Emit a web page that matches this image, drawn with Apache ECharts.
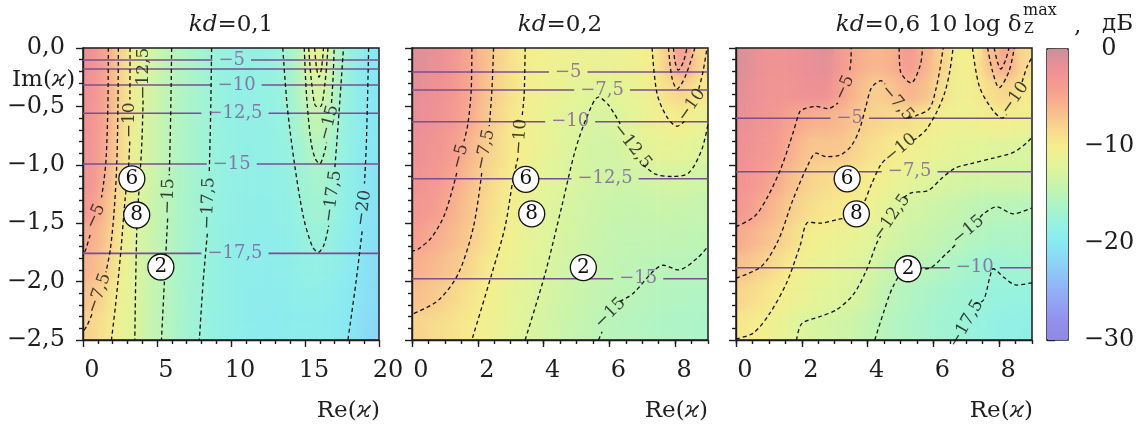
<!DOCTYPE html>
<html><head><meta charset="utf-8">
<script src="https://cdn.jsdelivr.net/npm/echarts@6/dist/echarts.min.js"></script>
<style>
html,body{margin:0;padding:0;background:#fff;}
#wrap{position:relative;width:1146px;height:427px;}
.layer{position:absolute;left:0;top:0;width:1146px;height:427px;}
#bgB{filter:blur(7px);clip-path:path('M83 48 H379 V340 H83 Z M412 48 H708 V340 H412 Z M736 48 H1032 V340 H736 Z');}
</style></head><body>
<div id="wrap"><div id="bgA" class="layer"></div><div id="bgB" class="layer"></div><div id="fg" class="layer"></div></div>
<script>
// ---------------- DATA ----------------
const panelTitles = ['kd=0,1', 'kd=0,2', 'kd=0,6'];
const yTicks = [0, -0.5, -1, -1.5, -2, -2.5];
const yTickLabels = ['0,0', '−0,5', '−1,0', '−1,5', '−2,0', '−2,5'];
const cbTicks = [0, -10, -20, -30];
const cbTickLabels = ['0', '−10', '−20', '−30'];

// heatmap cell centres
const cellX1 = [0.5,1.5,2.5,3.5,4.5,5.5,6.5,7.5,8.5,9.5,10.5,11.5,12.5,13.5,14.5,15.5,16.5,17.5,18.5,19.5];
const cellX23 = [0.25,0.75,1.25,1.75,2.25,2.75,3.25,3.75,4.25,4.75,5.25,5.75,6.25,6.75,7.25,7.75,8.25,8.75];
const cellY = [-0.125,-0.375,-0.625,-0.875,-1.125,-1.375,-1.625,-1.875,-2.125,-2.375];

// 10 log delta (dB), rows top -> bottom
const field1 = [
 [-2.0,-4.4,-7.8,-10.9,-13.1,-14.3,-15.5,-16.4,-17.3,-17.9,-18.3,-18.4,-18.2,-17.4,-15.7,-11.0,-12.5,-17.0,-18.9,-20.3],
 [-2.3,-4.5,-7.9,-11.0,-13.1,-14.4,-15.6,-16.5,-17.4,-18.0,-18.4,-18.5,-18.3,-17.7,-16.1,-12.8,-13.3,-17.5,-18.9,-20.3],
 [-2.4,-4.6,-8.0,-11.1,-13.2,-14.5,-15.7,-16.6,-17.4,-18.1,-18.5,-18.6,-18.4,-18.0,-16.6,-14.4,-14.6,-17.8,-19.0,-20.4],
 [-2.5,-5.0,-8.2,-11.3,-13.3,-14.6,-15.8,-16.7,-17.5,-18.1,-18.5,-18.7,-18.6,-18.2,-17.3,-15.5,-15.8,-18.0,-19.2,-20.5],
 [-2.6,-5.3,-8.5,-11.6,-13.4,-14.7,-15.9,-16.8,-17.5,-18.2,-18.6,-18.8,-18.8,-18.5,-17.6,-16.5,-16.6,-18.3,-19.4,-20.6],
 [-3.4,-6.2,-8.9,-12.0,-13.6,-14.8,-16.0,-16.9,-17.6,-18.3,-18.7,-18.9,-19.0,-18.8,-18.0,-17.0,-17.1,-18.6,-19.6,-20.8],
 [-5.1,-6.9,-9.7,-12.3,-13.8,-14.9,-16.1,-17.0,-17.7,-18.4,-18.8,-19.0,-19.1,-19.0,-18.5,-17.6,-17.7,-19.0,-19.9,-21.0],
 [-5.8,-7.4,-10.3,-12.4,-13.9,-15.0,-16.2,-17.1,-17.8,-18.5,-18.9,-19.1,-19.2,-19.1,-18.8,-18.3,-18.5,-19.3,-20.1,-21.2],
 [-6.8,-8.7,-10.6,-12.45,-14.0,-15.1,-16.3,-17.2,-17.9,-18.5,-19.0,-19.2,-19.3,-19.3,-19.1,-18.9,-19.1,-19.7,-20.4,-21.4],
 [-7.9,-9.3,-10.9,-12.5,-14.1,-15.2,-16.4,-17.3,-18.0,-18.6,-19.0,-19.3,-19.4,-19.4,-19.3,-19.2,-19.4,-20.0,-20.6,-21.6]
];
const field2 = [
 [-1.2,-1.8,-3.0,-4.7,-6.6,-8.2,-9.5,-10.3,-10.7,-11.0,-11.1,-11.1,-11.0,-10.7,-10.1,-7.8,-3.5,-8.5],
 [-1.5,-2.1,-3.2,-4.8,-6.8,-8.4,-9.7,-10.5,-11.0,-11.5,-11.9,-12.2,-11.9,-11.4,-10.7,-9.0,-8.0,-9.7],
 [-1.8,-2.4,-3.5,-5.1,-7.1,-8.7,-9.9,-10.8,-11.5,-12.1,-12.5,-13.0,-12.5,-11.8,-11.1,-10.3,-10.1,-11.2],
 [-2.2,-2.9,-4.1,-5.9,-7.6,-9.0,-10.0,-10.9,-11.7,-12.3,-12.9,-13.3,-13.1,-12.4,-11.8,-11.5,-11.7,-12.4],
 [-2.6,-3.4,-4.8,-6.5,-8.0,-9.3,-10.4,-11.3,-12.0,-12.5,-13.0,-13.4,-13.6,-13.5,-13.2,-12.9,-13.0,-13.4],
 [-3.2,-4.1,-5.5,-7.0,-8.4,-9.7,-10.8,-11.6,-12.2,-12.8,-13.3,-13.7,-14.0,-14.1,-14.0,-13.9,-14.0,-14.2],
 [-4.3,-5.4,-6.3,-7.4,-8.8,-10.0,-11.0,-11.8,-12.4,-13.0,-13.6,-14.0,-14.3,-14.5,-14.5,-14.5,-14.6,-14.8],
 [-5.5,-6.3,-7.1,-8.2,-9.5,-10.5,-11.3,-12.1,-12.7,-13.3,-13.8,-14.2,-14.5,-14.8,-14.95,-15.1,-15.1,-15.3],
 [-6.7,-7.4,-8.3,-9.2,-10.1,-11.0,-11.8,-12.4,-13.0,-13.6,-14.1,-14.5,-14.8,-15.0,-15.3,-15.5,-15.6,-15.8],
 [-8.0,-8.6,-9.1,-9.8,-10.5,-11.3,-12.0,-12.7,-13.3,-13.9,-14.4,-14.9,-15.2,-15.5,-15.7,-15.9,-16.0,-16.2]
];
const field3 = [
 [-1.0,-2.2,-2.6,-2.3,-1.8,-1.3,-3.8,-5.4,-6.0,-5.6,-3.5,-5.5,-7.9,-10.5,-10.0,-6.5,-4.8,-8.5],
 [-1.4,-2.4,-2.9,-2.7,-2.2,-2.0,-4.7,-6.4,-7.7,-7.0,-5.7,-6.6,-9.0,-10.8,-10.4,-8.8,-8.0,-9.7],
 [-1.8,-2.7,-3.3,-4.7,-5.6,-5.8,-6.3,-7.3,-8.1,-8.6,-8.8,-9.6,-10.5,-10.9,-10.8,-10.4,-10.3,-10.8],
 [-2.2,-3.1,-4.0,-5.7,-7.1,-7.1,-7.2,-8.3,-9.0,-9.8,-10.4,-10.9,-11.3,-11.7,-11.9,-12.2,-12.4,-12.6],
 [-2.7,-3.8,-5.1,-6.8,-7.9,-8.5,-8.9,-9.5,-10.1,-11.0,-11.7,-12.1,-12.5,-12.9,-13.1,-13.2,-13.3,-13.3],
 [-3.4,-5.0,-6.3,-7.7,-8.8,-9.3,-9.6,-9.9,-11.1,-12.2,-12.9,-13.4,-13.8,-14.2,-14.7,-15.0,-15.0,-15.1],
 [-5.4,-6.3,-7.4,-8.8,-10.2,-10.6,-11.0,-11.6,-12.3,-13.0,-13.6,-14.1,-14.6,-14.9,-15.5,-15.9,-16.0,-16.0],
 [-6.8,-7.8,-8.9,-10.0,-11.0,-11.5,-11.9,-12.3,-13.2,-14.1,-14.9,-15.0,-15.6,-16.2,-16.8,-17.3,-17.1,-16.9],
 [-8.2,-9.1,-9.9,-10.8,-11.5,-12.0,-12.3,-12.8,-14.0,-15.1,-15.6,-16.1,-16.6,-17.0,-17.3,-17.7,-17.9,-17.9],
 [-9.5,-10.1,-11.0,-12.0,-12.7,-12.9,-13.3,-14.0,-14.8,-15.5,-16.0,-16.5,-16.9,-17.3,-17.8,-18.3,-18.6,-18.7]
];

// contour polylines (segments broken where their labels sit)
const contours1 = [
 [[[1.71,0],[1.68,-0.5],[1.56,-0.95],[1.4,-1.15],[1.25,-1.28]], [[0.48,-1.6],[0.2,-1.72],[0,-1.78]]],
 [[[2.39,0],[2.36,-0.5],[2.28,-1.0],[2.1,-1.4],[1.85,-1.72],[1.55,-1.92]], [[0.6,-2.28],[0.3,-2.37],[0,-2.43]]],
 [[[3.18,0],[3.17,-0.44]], [[3.16,-0.8],[3.06,-1.05],[2.84,-1.3],[2.55,-1.75],[2.2,-2.2],[1.92,-2.5]]],
 [[[4.06,-0.45],[3.98,-0.8],[3.82,-1.15],[3.65,-1.5],[3.56,-2.0],[3.5,-2.5]]],
 [[[5.99,0],[5.92,-0.6],[5.83,-1.09]], [[5.72,-1.46],[5.5,-2.0],[5.3,-2.5]]],
 [[[8.69,0],[8.62,-0.6],[8.53,-1.07]], [[8.4,-1.59],[8.12,-2.0],[7.86,-2.5]]],
 [[[13.5,0],[13.8,-0.5],[14.3,-1.0],[14.9,-1.45],[15.5,-1.7],[15.9,-1.75],[16.3,-1.68],[16.6,-1.52]], [[17.02,-1.02],[17.3,-0.55],[17.6,0]]],
 [[[14.95,0],[15.1,-0.4],[15.4,-0.8],[15.7,-0.95],[16.0,-0.99],[16.3,-0.9],[16.46,-0.81]], [[16.79,-0.47],[16.9,-0.25],[16.97,0]]],
 [[[15.25,0],[15.45,-0.3],[15.75,-0.5],[16.05,-0.5],[16.35,-0.3],[16.55,0]]],
 [[[15.65,0],[15.78,-0.17],[15.95,-0.25],[16.12,-0.17],[16.25,0]]],
 [[[19.3,0],[19.15,-0.8],[19.02,-1.16]], [[18.86,-1.57],[18.45,-2.0],[17.9,-2.5]]]
];
const contours2 = [
 [[[1.82,0],[1.8,-0.36],[1.7,-0.65],[1.58,-0.8]], [[1.36,-1.07],[1.0,-1.42],[0.6,-1.62],[0.2,-1.72],[0,-1.74]]],
 [[[2.48,0],[2.43,-0.36],[2.35,-0.67]], [[2.12,-1.07],[1.87,-1.53],[1.41,-1.93],[0.8,-2.16],[0,-2.28]]],
 [[[3.44,0],[3.41,-0.4],[3.35,-0.58]], [[3.22,-0.94],[3.07,-1.13],[2.83,-1.53],[2.43,-1.93],[1.82,-2.5]]],
 [[[3.44,-2.5],[4.05,-1.93],[4.55,-1.36],[4.96,-0.88],[5.32,-0.59],[5.67,-0.42],[5.98,-0.49],[6.33,-0.65]], [[7.02,-1.0],[7.4,-1.08],[7.9,-1.10],[8.41,-1.07],[8.81,-0.87],[9.0,-0.65]]],
 [[[5.67,-2.5],[5.78,-2.43]], [[6.32,-2.17],[6.73,-2.1],[7.34,-1.91],[7.65,-1.86],[8.1,-1.9],[8.67,-1.8],[9.0,-1.7]]],
 [[[7.3,0],[7.45,-0.39],[7.75,-0.59],[8.06,-0.67],[8.28,-0.63]], [[8.72,-0.35],[8.85,-0.2],[8.97,0]]],
 [[[7.8,0],[7.9,-0.25],[8.06,-0.35],[8.3,-0.25],[8.6,0]]],
 [[[7.95,0],[8.0,-0.12],[8.1,-0.19],[8.25,-0.12],[8.36,0]]]
];
const contours3 = [
 [[[0,-1.53],[0.57,-1.44],[0.97,-1.27],[1.38,-1.02],[1.73,-0.73],[1.93,-0.55],[2.03,-0.525],[2.43,-0.5],[2.79,-0.52],[3.1,-0.47]], [[3.46,-0.19],[3.5,-0.08],[3.5,0]]],
 [[[4.96,0],[5.0,-0.2],[5.32,-0.3],[5.6,-0.15],[5.67,0]]],
 [[[0,-1.97],[0.77,-1.87],[1.28,-1.65],[1.73,-1.3],[2.19,-1.0],[2.44,-0.9],[2.74,-0.93],[3.14,-0.92],[3.5,-0.84],[3.75,-0.7],[3.95,-0.5],[4.1,-0.35],[4.26,-0.3],[4.41,-0.28],[4.53,-0.31]], [[5.24,-0.6],[5.47,-0.58],[5.88,-0.52],[6.08,-0.35],[6.2,-0.18],[6.3,0]]],
 [[[0,-2.49],[0.53,-2.44],[1.03,-2.27],[1.54,-2.01],[1.94,-1.7],[2.2,-1.49],[2.55,-1.5],[3.06,-1.47],[3.67,-1.43],[3.9,-1.32],[4.1,-1.18],[4.4,-1.0],[4.6,-0.94]], [[5.38,-0.79],[5.5,-0.77],[5.78,-0.7],[6.1,-0.55],[6.35,-0.38],[6.5,-0.2],[6.6,0]]],
 [[[7.19,0],[7.4,-0.33],[7.8,-0.53],[8.1,-0.6],[8.23,-0.57]], [[8.7,-0.29],[8.85,-0.16],[9.0,-0.08]]],
 [[[7.65,0],[7.8,-0.2],[8.0,-0.34],[8.3,-0.2],[8.46,0]]],
 [[[7.85,0],[7.95,-0.12],[8.05,-0.18],[8.2,-0.1],[8.3,0]]],
 [[[1.84,-2.5],[2.0,-2.36],[2.55,-2.3],[3.06,-2.24],[3.57,-2.11],[3.97,-1.9],[4.28,-1.67],[4.4,-1.61]], [[5.1,-1.28],[5.33,-1.24],[5.84,-1.22],[6.24,-1.12],[6.65,-1.03],[7.15,-0.99],[7.86,-0.94],[8.46,-0.89],[8.92,-0.79],[9.0,-0.75]]],
 [[[4.22,-2.5],[4.48,-2.27],[4.78,-2.04],[5.19,-1.89],[5.8,-1.89],[6.4,-1.76],[6.72,-1.67]], [[7.42,-1.45],[7.52,-1.42],[7.92,-1.36],[8.43,-1.42],[8.99,-1.37]]],
 [[[7.24,-2.19],[7.52,-2.16],[7.72,-1.96],[7.82,-1.89],[8.13,-1.96],[8.53,-2.03],[9.0,-2.01]]]
];

// contour labels: [x, y, text, rotation]
const cLabels1 = [[0.85,-1.44,'−5',65],[1.08,-2.1,'−7,5',70],[3.18,-0.62,'−10',90],[4.07,-0.22,'−12,5',90],[5.77,-1.27,'−15',88],[8.47,-1.33,'−17,5',88],[16.62,-0.64,'−15',75],[16.85,-1.27,'−17,5',82],[18.94,-1.37,'−20',82]];
const cLabels2 = [[1.46,-0.93,'−5',75],[2.22,-0.87,'−7,5',78],[3.29,-0.76,'−10',86],[6.69,-0.84,'−12,5',-52],[8.5,-0.49,'−10',55],[6.03,-2.27,'−15',45]];
const cLabels3 = [[3.3,-0.34,'−5',65],[4.9,-0.47,'−7,5',-50],[5.0,-0.86,'−10',40],[4.73,-1.45,'−12,5',55],[8.48,-0.43,'−10',55],[7.06,-1.56,'−15',40],[7.0,-2.36,'−17,5',60]];

// horizontal lines: [y, label, label x]
const hLines1 = [[-0.103,'−5',10.05],[-0.180,'',0],[-0.317,'−10',10.38],[-0.559,'−12,5',10.27],[-0.993,'−15',10.05],[-1.758,'−17,5',10.27]];
const hLines2 = [[-0.205,'−5',4.75],[-0.36,'−7,5',5.78],[-0.631,'−10',4.81],[-1.12,'−12,5',5.87],[-1.975,'−15',6.88]];
const hLines3 = [[-0.602,'−5',3.46],[-1.059,'−7,5',5.28],[-1.881,'−10',7.26]];

// circled markers: [x, y, label]
const markers1 = [[3.3,-1.12,'6'],[3.63,-1.43,'8'],[5.26,-1.875,'2']];
const markers2 = [[3.46,-1.124,'6'],[3.64,-1.42,'8'],[5.21,-1.88,'2']];
const markers3 = [[3.38,-1.12,'6'],[3.66,-1.42,'8'],[5.23,-1.89,'2']];

// ---------------- LAYOUT / STYLE ----------------
const FONT = 'DejaVu Serif';
const CMAP = ['#9088e0','#9490ee','#94a4f4','#90bcf6','#8cd4f6','#88eaf2','#96f2e0','#aef4c6','#c8f4ac','#e2f49a','#f6ee8c','#f8d48e','#f8b68e','#f69c90','#ee9096','#c8909c'];
const P = [
 {left:83, top:48, width:296, height:292, xmax:20, xint:5},
 {left:412, top:48, width:296, height:292, xmax:9, xint:2},
 {left:736, top:48, width:296, height:292, xmax:9, xint:2}
];
const fields = [field1, field2, field3];
const cellXs = [cellX1, cellX23, cellX23];
const contours = [contours1, contours2, contours3];
const cLabels = [cLabels1, cLabels2, cLabels3];
const hLines = [hLines1, hLines2, hLines3];
const markers = [markers1, markers2, markers3];

function bgOption() {
  const grid = [], xAxis = [], yAxis = [], series = [];
  P.forEach((p, i) => {
    grid.push({left:p.left, top:p.top, width:p.width, height:p.height});
    xAxis.push({type:'category', gridIndex:i, data:cellXs[i].map(String), show:false});
    yAxis.push({type:'category', gridIndex:i, data:cellY.map(String), show:false, inverse:true});
    const data = [];
    fields[i].forEach((row, j) => row.forEach((v, k) => data.push([k, j, v])));
    series.push({type:'heatmap', xAxisIndex:i, yAxisIndex:i, data, silent:true, progressive:0});
  });
  return {animation:false, grid, xAxis, yAxis,
    visualMap:{type:'continuous', min:-30, max:0, show:false, seriesIndex:[0,1,2], inRange:{color:CMAP}},
    series};
}
['bgA','bgB'].forEach(id => {
  const c = echarts.init(document.getElementById(id), null, {renderer:'canvas', width:1146, height:427});
  c.setOption(bgOption());
});

const ctx = document.createElement('canvas').getContext('2d');
function textW(t, size) { ctx.font = size + 'px "' + FONT + '"'; return ctx.measureText(t).width; }

const AX = '#1e1e1e';
const tickLine = {color:AX, width:1.4};
const grid = P.map(p => ({left:p.left, top:p.top, width:p.width, height:p.height, show:true, borderColor:AX, borderWidth:1.5, backgroundColor:'transparent'}));
grid.push({left:1047, top:49, width:21, height:291, show:true, borderColor:AX, borderWidth:1.5, backgroundColor:'transparent'});

const xAxis = [], yAxis = [];
P.forEach((p, i) => {
  xAxis.push({type:'value', gridIndex:i, min:0, max:p.xmax, interval:p.xint,
    axisLine:{show:true, onZero:false, lineStyle:tickLine},
    axisTick:{show:true, length:7, lineStyle:tickLine},
    minorTick: i === 0 ? {show:true, splitNumber:5, length:4, lineStyle:tickLine} : {show:false},
    splitLine:{show:false},
    axisLabel:{show:true, margin:19, padding:[0,0,0,18], fontFamily:FONT, fontSize:24, color:AX, showMaxLabel: i === 0}
  });
  yAxis.push({type:'value', gridIndex:i, min:-2.5, max:0, interval:0.5,
    axisLine:{show:true, onZero:false, lineStyle:tickLine},
    axisTick:{show:true, length:7, lineStyle:tickLine},
    minorTick:{show:true, splitNumber:5, length:4, lineStyle:tickLine},
    splitLine:{show:false},
    axisLabel: i === 0 ? {show:true, margin:18, fontFamily:FONT, fontSize:24, color:AX,
      formatter: v => { const k = yTicks.findIndex(t => Math.abs(t - v) < 1e-6); return k >= 0 ? yTickLabels[k] : ''; }} : {show:false}
  });
});
xAxis.push({type:'value', gridIndex:3, show:false, min:0, max:1});
yAxis.push({type:'value', gridIndex:3, position:'right', min:-30, max:0, interval:10,
  axisLine:{show:false}, axisTick:{show:true, length:8, lineStyle:tickLine}, splitLine:{show:false},
  axisLabel:{show:true, margin:41, align:'center', fontFamily:FONT, fontSize:24, color:AX,
    formatter: v => { const k = cbTicks.findIndex(t => Math.abs(t - v) < 1e-6); return k >= 0 ? cbTickLabels[k] : ''; }}
});
// minor ticks every 0.5 for panels 2 and 3 (top axis moved onto the bottom edge)
[1, 2].forEach(i => xAxis.push({type:'value', gridIndex:i, position:'top', offset:-292, min:0, max:9, interval:0.5,
  axisLine:{show:false, onZero:false}, axisTick:{show:true, inside:true, length:4, lineStyle:tickLine},
  axisLabel:{show:false}, splitLine:{show:false}}));

const series = [{type:'scatter', xAxisIndex:3, yAxisIndex:3, data:[], silent:true}];
const PURPLE = '#7a4f90', PURPLE_T = '#7d5a98';
P.forEach((p, i) => {
  contours[i].forEach(c => c.forEach(seg => series.push({
    type:'line', xAxisIndex:i, yAxisIndex:i, data:seg, symbol:'none', smooth:0.3, silent:true, z:4,
    lineStyle:{color:'#111', width:1.3, type:[4,3]}
  })));
  const unit = p.xmax / p.width;
  const pl = [];
  hLines[i].forEach(([y, t, lx]) => {
    const segs = [];
    if (!t) segs.push([[0, y], [p.xmax, y]]);
    else {
      const hw = (textW(t, 18) / 2 + 6) * unit;
      segs.push([[0, y], [lx - hw, y]]);
      segs.push([[lx + hw, y], [p.xmax, y]]);
      pl.push({value:[lx, y], label:{formatter:t}});
    }
    segs.forEach(s => series.push({type:'line', xAxisIndex:i, yAxisIndex:i, data:s, symbol:'none', silent:true, z:3,
      lineStyle:{color:PURPLE, width:1.6}}));
  });
  series.push({type:'scatter', xAxisIndex:i, yAxisIndex:i, data:pl, symbolSize:1, silent:true, z:5,
    itemStyle:{color:'rgba(0,0,0,0)'},
    label:{show:true, position:'inside', fontFamily:FONT, fontSize:18, color:PURPLE_T}});
  series.push({type:'scatter', xAxisIndex:i, yAxisIndex:i, symbolSize:1, silent:true, z:5,
    itemStyle:{color:'rgba(0,0,0,0)'},
    data: cLabels[i].map(([x, y, t, r]) => ({value:[x, y], label:{formatter:t, rotate:r}})),
    label:{show:true, position:'inside', fontFamily:FONT, fontSize:17, color:'#111'}});
  series.push({type:'scatter', xAxisIndex:i, yAxisIndex:i, symbol:'circle', symbolSize:26, silent:true, z:6,
    itemStyle:{color:'#fff', borderColor:'#111', borderWidth:1.3, opacity:1},
    data: markers[i].map(([x, y, t]) => ({value:[x, y], label:{formatter:t}})),
    label:{show:true, position:'inside', fontFamily:FONT, fontSize:20, color:'#111'}});
});

function txt(x, y, text, opt) {
  return Object.assign({type:'text', x, y, silent:true, z:10, style:Object.assign({text, fontFamily:FONT, fontSize:23, fill:AX,
    align:'left', verticalAlign:'middle',
    rich:{i:{fontFamily:FONT, fontSize:23, fontStyle:'italic', fill:AX}}}, opt || {})});
}
const titleX = [231, 560, 878];
const graphic = [];
panelTitles.forEach((t, i) => graphic.push(txt(titleX[i], 25, t.replace('kd', '{i|kd}'), {align:'center'})));
graphic.push(txt(12, 80, 'Im({i|ϰ})'));
[380, 708, 1033].forEach(x => graphic.push(txt(x, 411, 'Re({i|ϰ})', {align:'right'})));
graphic.push(txt(928, 25, '10 log δ'));
graphic.push(txt(1023, 11, 'max', {fontSize:16}));
graphic.push(txt(1024, 29, 'Z', {fontSize:14}));
graphic.push(txt(1074, 27, ','));
graphic.push(txt(1102, 24, 'дБ'));

const fg = echarts.init(document.getElementById('fg'), null, {renderer:'canvas', width:1146, height:427});
fg.setOption({
  animation:false, backgroundColor:'transparent',
  grid, xAxis, yAxis, series, graphic,
  visualMap:{type:'continuous', min:-30, max:0, seriesIndex:[0], show:true, calculable:false, hoverLink:false,
    left:1047, top:49, itemWidth:21, itemHeight:291, padding:0, inRange:{color:CMAP}}
});
</script>
</body></html>
